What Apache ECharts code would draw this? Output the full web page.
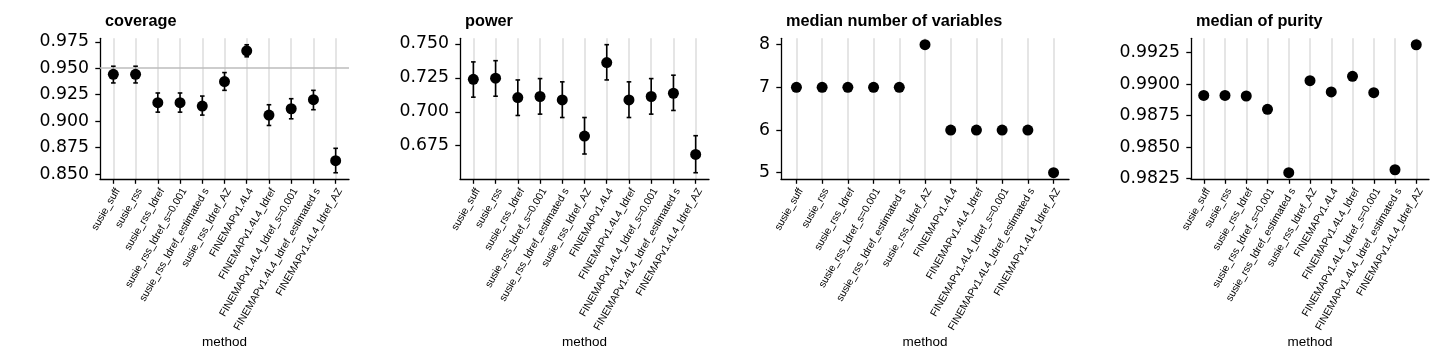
<!DOCTYPE html>
<html><head><meta charset="utf-8">
<script src="https://cdn.jsdelivr.net/npm/echarts@6/dist/echarts.min.js"></script>
<style>html,body{margin:0;padding:0;background:#fff}#c{width:1440px;height:360px}</style>
</head><body><div id="c"></div>
<script>
const methods = ['susie_suff','susie_rss','susie_rss_ldref','susie_rss_ldref_s=0.001','susie_rss_ldref_estimated s','susie_rss_ldref_AZ','FINEMAPv1.4L4','FINEMAPv1.4L4_ldref','FINEMAPv1.4L4_ldref_s=0.001','FINEMAPv1.4L4_ldref_estimated s','FINEMAPv1.4L4_ldref_AZ'];

const coverage      = [0.9443,0.9443,0.9174,0.9174,0.9142,0.9374,0.9665,0.9057,0.9117,0.9203,0.8626];
const coverageLower = [0.9361,0.9361,0.9085,0.9085,0.9057,0.9291,0.9608,0.8959,0.9022,0.9108,0.8512];
const coverageUpper = [0.9519,0.9519,0.9266,0.9266,0.9237,0.9459,0.9722,0.9155,0.9212,0.9291,0.8743];
const coverageTarget = 0.95;

const power      = [0.7240,0.7248,0.7105,0.7113,0.7088,0.6821,0.7363,0.7088,0.7113,0.7137,0.6686];
const powerLower = [0.7108,0.7115,0.6973,0.6983,0.6958,0.6689,0.7235,0.6958,0.6983,0.7010,0.6551];
const powerUpper = [0.7368,0.7377,0.7235,0.7245,0.7221,0.6958,0.7495,0.7221,0.7245,0.7270,0.6824];

const medianVariables = [7,7,7,7,7,8,6,6,6,6,5];

const medianPurity = [0.9891,0.9891,0.98905,0.9880,0.98298,0.99026,0.98937,0.99061,0.98931,0.98321,0.99311];

const coverageTicks  = [0.850,0.875,0.900,0.925,0.950,0.975];
const powerTicks     = [0.675,0.700,0.725,0.750];
const variablesTicks = [5,6,7,8];
const purityTicks    = [0.9825,0.9850,0.9875,0.9900,0.9925];

const chart = echarts.init(document.getElementById('c'), null, {renderer:'canvas'});

const panels = [
  {title:'coverage', left:100, width:249, min:0.8452, max:0.9783, ticks:coverageTicks, dec:3, values:coverage, lo:coverageLower, hi:coverageUpper, target:coverageTarget},
  {title:'power', left:460, width:249, min:0.6504, max:0.7542, ticks:powerTicks, dec:3, values:power, lo:powerLower, hi:powerUpper},
  {title:'median number of variables', left:781, width:288, min:4.85, max:8.15, ticks:variablesTicks, dec:0, values:medianVariables},
  {title:'median of purity', left:1191, width:238, min:0.98247, max:0.99362, ticks:purityTicks, dec:4, values:medianPurity}
];

const TOP = 38.3, H = 140.8;
const idx = methods.map((_, i) => i);
const black = '#000';

const option = {
  animation:false,
  backgroundColor:'#fff',
  title: panels.map(p => ({text:p.title, left:p.left, top:9, textStyle:{fontFamily:'Liberation Sans', fontWeight:'bold', fontSize:16.3, color:black}})),
  grid: panels.map(p => ({left:p.left, top:TOP, width:p.width, height:H, containLabel:false})),
  xAxis: panels.map((p, gi) => ({
    type:'value', gridIndex:gi, min:-0.6, max:10.6,
    axisLine:{show:true, onZero:false, lineStyle:{color:black, width:1.3}},
    axisTick:{show:true, customValues:idx, length:4.7, lineStyle:{color:black, width:1.3}},
    axisLabel:{show:true, customValues:idx, rotate:60, align:'right', verticalAlign:'top', margin:7.5,
      formatter: v => methods[Math.round(v)], fontFamily:'Liberation Sans', fontSize:10.4, color:black},
    splitLine:{show:true, lineStyle:{color:'#dcdcdc', width:1.5}},
    name:'method', nameLocation:'middle', nameGap:156,
    nameTextStyle:{fontFamily:'Liberation Sans', fontSize:13.5, color:black}
  })),
  yAxis: panels.map((p, gi) => ({
    type:'value', gridIndex:gi, min:p.min, max:p.max,
    axisLine:{show:true, onZero:false, lineStyle:{color:black, width:1.3}},
    axisTick:{show:true, customValues:p.ticks, length:4.7, lineStyle:{color:black, width:1.3}},
    axisLabel:{show:true, customValues:p.ticks, margin:11, formatter: v => Number(v).toFixed(p.dec),
      fontFamily:'DejaVu Sans', fontSize:17.3, color:black},
    splitLine:{show:false}
  })),
  series: []
};

panels.forEach((p, gi) => {
  if (p.lo) {
    option.series.push({
      type:'custom', xAxisIndex:gi, yAxisIndex:gi, z:2, silent:true,
      data: idx.map(i => [i, p.lo[i], p.hi[i]]),
      renderItem: (params, api) => {
        const a = api.coord([api.value(0), api.value(1)]);
        const b = api.coord([api.value(0), api.value(2)]);
        const hw = 2.3;
        const st = {stroke:black, lineWidth:1.6};
        return {type:'group', children:[
          {type:'line', shape:{x1:a[0], y1:a[1], x2:b[0], y2:b[1]}, style:st},
          {type:'line', shape:{x1:a[0]-hw, y1:a[1], x2:a[0]+hw, y2:a[1]}, style:st},
          {type:'line', shape:{x1:b[0]-hw, y1:b[1], x2:b[0]+hw, y2:b[1]}, style:st}
        ]};
      }
    });
  }
  const sc = {
    type:'scatter', xAxisIndex:gi, yAxisIndex:gi, z:3, silent:true,
    symbol:'circle', symbolSize:11, itemStyle:{color:black, opacity:1, borderWidth:0},
    data: idx.map(i => [i, p.values[i]])
  };
  if (p.target != null) {
    sc.markLine = {silent:true, symbol:'none', label:{show:false},
      lineStyle:{color:'#bdbdbd', width:1.5, type:'solid', opacity:1},
      data:[{yAxis:p.target}], animation:false};
  }
  option.series.push(sc);
});

chart.setOption(option);
</script></body></html>
